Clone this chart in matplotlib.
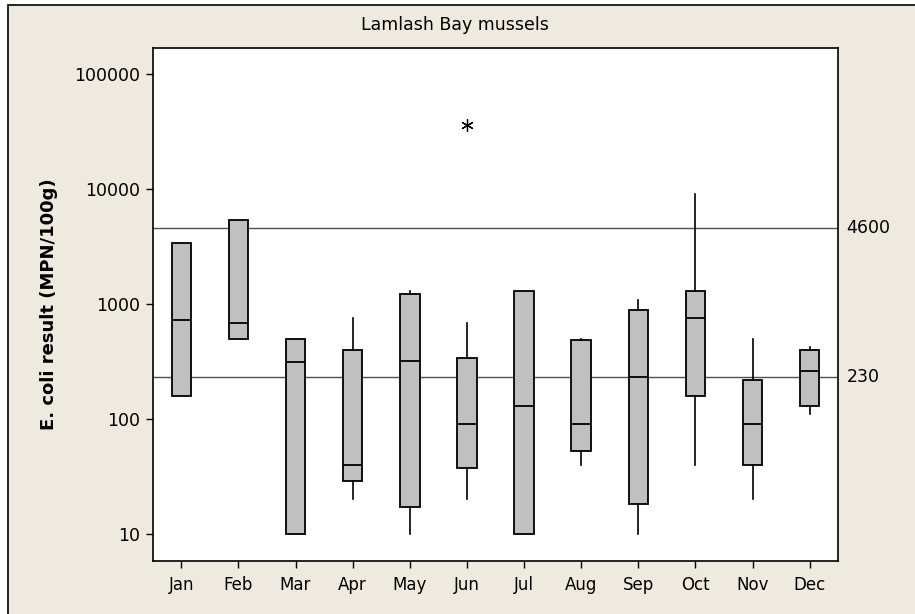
import numpy as np
import matplotlib
matplotlib.use('Agg')
import matplotlib.pyplot as plt
from matplotlib.patches import Rectangle
from matplotlib.ticker import FixedLocator, NullLocator

# month labels and box statistics (MPN/100g)
months = ['Jan', 'Feb', 'Mar', 'Apr', 'May', 'Jun',
          'Jul', 'Aug', 'Sep', 'Oct', 'Nov', 'Dec']
whis_lo = [158, 500, 10, 20, 10, 20, 10, 40, 10, 40, 20, 110]
q1 = [158, 500, 10, 29, 17, 37, 10, 53, 18, 158, 40, 129]
median = [730, 690, 310, 40, 320, 91, 130, 91, 230, 760, 91, 262]
q3 = [3420, 5360, 500, 400, 1220, 340, 1300, 486, 890, 1300, 218, 400]
whis_hi = [3420, 5360, 500, 760, 1300, 690, 1300, 500, 1080, 9000, 500, 425]
outliers = [[], [], [], [], [], [36000], [], [], [], [], [], []]

# reference levels
ref_levels = [4600, 230]
y_ticks = [10, 100, 1000, 10000, 100000]

stats = []
for i in range(len(months)):
    stats.append({'med': median[i], 'q1': q1[i], 'q3': q3[i],
                  'whislo': whis_lo[i], 'whishi': whis_hi[i],
                  'fliers': outliers[i], 'label': months[i]})

fig = plt.figure(figsize=(9.15, 6.14), dpi=100)
fig.patch.set_facecolor('white')

# beige panel with black frame
panel = Rectangle((7.5/915, -0.01), 1.0, 1 - 4.5/614 + 0.01,
                  transform=fig.transFigure, facecolor='#EEEAE0',
                  edgecolor='black', linewidth=1.2, zorder=-1)
fig.patches.append(panel)

ax = fig.add_axes([152.7/915, 1 - 560.7/614, 685.6/915, 513/614])
ax.set_zorder(2)
ax.set_facecolor('white')

for lev in ref_levels:
    ax.axhline(lev, color='#505050', linewidth=1.0, zorder=1)
    ax.text(1.012, lev, str(lev), transform=ax.get_yaxis_transform(),
            ha='left', va='center', fontsize=12.5)

bp = ax.bxp(stats, positions=np.arange(1, 13), widths=0.34,
            patch_artist=True, showcaps=False, manage_ticks=False,
            boxprops=dict(facecolor='#C0C0C0', edgecolor='black',
                          linewidth=1.3),
            medianprops=dict(color='black', linewidth=1.3),
            whiskerprops=dict(color='black', linewidth=1.2),
            flierprops=dict(marker=(6, 2, 0), markersize=9,
                            markeredgecolor='black', markeredgewidth=0.9,
                            linestyle='none'))
for art in bp['boxes'] + bp['medians'] + bp['whiskers']:
    art.set_zorder(3)

ax.set_yscale('log')
ax.set_ylim(5.82, 170600)
ax.set_xlim(0.5, 12.5)
ax.yaxis.set_major_locator(FixedLocator(y_ticks))
ax.yaxis.set_minor_locator(NullLocator())
ax.set_yticklabels([str(t) for t in y_ticks], fontsize=12.5)
ax.set_xticks(np.arange(1, 13))
ax.set_xticklabels(months, fontsize=12)
ax.tick_params(axis='y', direction='out', length=5, width=1, pad=4)
ax.tick_params(axis='x', direction='out', length=5, width=1, pad=6)

for sp in ax.spines.values():
    sp.set_linewidth(1.2)
    sp.set_color('black')

ax.set_ylabel('E. coli result (MPN/100g)', fontsize=13, fontweight='bold',
              labelpad=12)

fig.text(0.497, 1 - 25/614, 'Lamlash Bay mussels', ha='center',
         va='center', fontsize=12.5)

fig.savefig('out.png', dpi=100, facecolor=fig.get_facecolor())
